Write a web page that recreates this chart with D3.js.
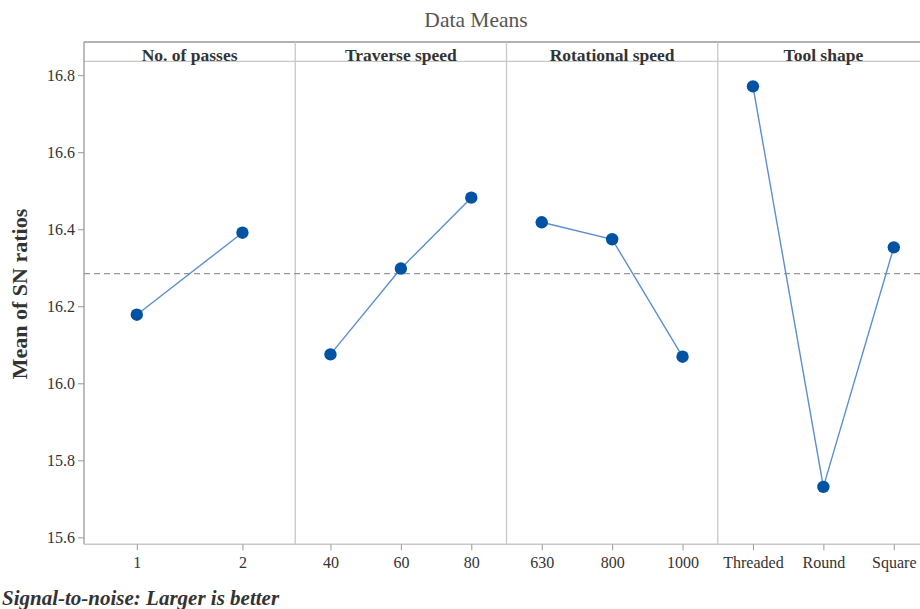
<!DOCTYPE html>
<html>
<head>
<meta charset="utf-8">
<script src="https://cdn.jsdelivr.net/npm/d3@7"></script>
<style>
    body { margin: 0; background: white; }
    svg text { font-family: 'Liberation Serif', 'Times New Roman', serif; }
</style>
</head>
<body>
<div id="chart"></div>
<script>
// data
var factor_names = ['No. of passes', 'Traverse speed', 'Rotational speed', 'Tool shape']
var passes_levels = ['1', '2']
var passes_means = [16.178, 16.391]
var traverse_levels = ['40', '60', '80']
var traverse_means = [16.075, 16.298, 16.482]
var rotational_levels = ['630', '800', '1000']
var rotational_means = [16.418, 16.374, 16.069]
var shape_levels = ['Threaded', 'Round', 'Square']
var shape_means = [16.771, 15.731, 16.353]
var y_ticks = [15.6, 15.8, 16.0, 16.2, 16.4, 16.6, 16.8]
var grand_mean = 16.285

var panels = [
    { name: factor_names[0], levels: passes_levels, means: passes_means },
    { name: factor_names[1], levels: traverse_levels, means: traverse_means },
    { name: factor_names[2], levels: rotational_levels, means: rotational_means },
    { name: factor_names[3], levels: shape_levels, means: shape_means }
]

var width = 920, height = 609
var plot_left = 84, plot_right = 929, frame_top = 42, strip_bottom = 61.3, plot_bottom = 544.3
var serif = "'Liberation Serif', 'Times New Roman', serif"
var grid_color = '#c8c8c8', text_color = '#333', marker_color = '#0052a3', line_color = '#5b8fd0'

var svg = d3.select('#chart')
    .append('svg')
    .attr('width', width)
    .attr('height', height)

var y = d3.scaleLinear()
    .domain([15.582, 16.836])
    .range([plot_bottom, strip_bottom])

var x_panel = d3.scaleBand()
    .domain(factor_names)
    .range([plot_left, plot_right])

// title
svg.append('text')
    .attr('x', 476)
    .attr('y', 27)
    .attr('text-anchor', 'middle')
    .attr('font-size', 21.5)
    .attr('fill', '#555')
    .text('Data Means')

// frame lines
svg.append('line')
    .attr('x1', plot_left).attr('x2', plot_right)
    .attr('y1', frame_top).attr('y2', frame_top)
    .attr('stroke', '#999').attr('stroke-width', 1.3)
svg.append('line')
    .attr('x1', plot_left).attr('x2', plot_right)
    .attr('y1', strip_bottom).attr('y2', strip_bottom)
    .attr('stroke', grid_color).attr('stroke-width', 1.3)

// panel dividers
svg.selectAll('.divider')
    .data(factor_names.slice(1))
    .enter()
    .append('line')
    .attr('class', 'divider')
    .attr('x1', d => x_panel(d)).attr('x2', d => x_panel(d))
    .attr('y1', frame_top).attr('y2', plot_bottom)
    .attr('stroke', grid_color).attr('stroke-width', 1.3)

// y axis
var y_axis = svg.append('g')
    .attr('transform', `translate(${plot_left},0)`)
    .attr('font-family', serif)
    .call(d3.axisLeft(y).tickValues(y_ticks).tickFormat(d3.format('.1f')).tickSize(6).tickPadding(3))
y_axis.attr('font-family', serif)
y_axis.select('.domain').remove()
y_axis.selectAll('line').attr('stroke', '#999')
y_axis.selectAll('text')
    .attr('font-size', 16)
    .attr('fill', text_color)
svg.append('line')
    .attr('x1', plot_left).attr('x2', plot_left)
    .attr('y1', frame_top).attr('y2', plot_bottom)
    .attr('stroke', '#999').attr('stroke-width', 1.3)

// x axis base line
svg.append('line')
    .attr('x1', plot_left).attr('x2', plot_right)
    .attr('y1', plot_bottom).attr('y2', plot_bottom)
    .attr('stroke', grid_color).attr('stroke-width', 1.6)

// grand mean reference
svg.append('line')
    .attr('x1', plot_left).attr('x2', plot_right)
    .attr('y1', y(grand_mean)).attr('y2', y(grand_mean))
    .attr('stroke', '#999')
    .attr('stroke-width', 1.2)
    .attr('stroke-dasharray', '6,4')

var line = d3.line()

panels.forEach(p => {
    var x0 = x_panel(p.name)
    var x = d3.scalePoint()
        .domain(p.levels)
        .range([x0, x0 + x_panel.bandwidth()])
        .padding(0.5)

    svg.append('text')
        .attr('x', x0 + x_panel.bandwidth() / 2)
        .attr('y', 60.5)
        .attr('text-anchor', 'middle')
        .attr('font-size', 17.5)
        .attr('font-weight', 'bold')
        .attr('fill', text_color)
        .text(p.name)

    var x_axis = svg.append('g')
        .attr('transform', `translate(0,${plot_bottom})`)
        .call(d3.axisBottom(x).tickSize(6).tickPadding(6))
    x_axis.attr('font-family', serif)
    x_axis.select('.domain').remove()
    x_axis.selectAll('line').attr('stroke', '#999')
    x_axis.selectAll('text')
        .attr('font-size', 16)
        .attr('fill', text_color)

    var pts = p.levels.map((l, i) => [x(l), y(p.means[i])])

    svg.append('path')
        .attr('d', line(pts))
        .attr('fill', 'none')
        .attr('stroke', line_color)
        .attr('stroke-width', 1.4)

    svg.selectAll(null)
        .data(pts)
        .enter()
        .append('circle')
        .attr('cx', d => d[0])
        .attr('cy', d => d[1])
        .attr('r', 6.2)
        .attr('fill', marker_color)
})

// y label
svg.append('text')
    .attr('transform', 'translate(27,294) rotate(-90)')
    .attr('text-anchor', 'middle')
    .attr('font-size', 22)
    .attr('font-weight', 'bold')
    .attr('fill', text_color)
    .text('Mean of SN ratios')

// footnote
svg.append('text')
    .attr('x', 2)
    .attr('y', 605)
    .attr('font-size', 21)
    .attr('font-weight', 'bold')
    .attr('font-style', 'italic')
    .attr('fill', text_color)
    .text('Signal-to-noise: Larger is better')
</script>
</body>
</html>
